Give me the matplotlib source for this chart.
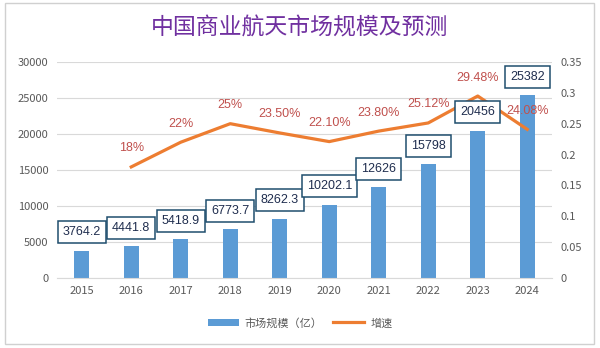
import matplotlib
matplotlib.use("Agg")
import matplotlib.pyplot as plt
from matplotlib.patches import Rectangle
import numpy as np

plt.rcParams['font.family'] = ['Noto Sans CJK SC', 'DejaVu Sans']

years = ['2015', '2016', '2017', '2018', '2019', '2020', '2021', '2022', '2023', '2024']
market = [3764.2, 4441.8, 5418.9, 6773.7, 8262.3, 10202.1, 12626, 15798, 20456, 25382]
market_labels = ['3764.2', '4441.8', '5418.9', '6773.7', '8262.3', '10202.1',
                 '12626', '15798', '20456', '25382']
growth_years = years[1:]
growth = [0.18, 0.22, 0.25, 0.235, 0.221, 0.238, 0.2512, 0.2948, 0.2408]
growth_labels = ['18%', '22%', '25%', '23.50%', '22.10%', '23.80%', '25.12%', '29.48%', '24.08%']

bar_color = '#5B9BD5'
line_color = '#ED7D31'
tick_color = '#595959'

fig = plt.figure(figsize=(6, 3.48), dpi=100)
fig.patches.append(Rectangle((0.008, 0.012), 0.982, 0.978, transform=fig.transFigure,
                             fill=False, edgecolor='#D0D0D0', linewidth=1))

ax = fig.add_axes([0.095, 0.201, 0.825, 0.621])
x = np.arange(len(years))
ax.bar(x, market, width=0.3, color=bar_color, zorder=2, label='市场规模（亿）')
ax.set_ylim(0, 30000)
ax.set_yticks(np.arange(0, 30001, 5000))
ax.set_xlim(-0.5, len(years) - 0.5)
ax.set_xticks(x)
ax.set_xticklabels(years)
ax.grid(axis='y', color='#D9D9D9', linewidth=0.8, zorder=0)
for s in ax.spines.values():
    s.set_visible(False)
ax.spines['bottom'].set_visible(True)
ax.spines['bottom'].set_color('#D9D9D9')
ax.tick_params(length=0, labelsize=8, labelcolor=tick_color, pad=6)

ax2 = ax.twinx()
gx = x[1:]
ax2.plot(gx, growth, color=line_color, linewidth=2.3, zorder=3, label='增速')
ax2.set_ylim(0, 0.35)
ax2.set_yticks([0, 0.05, 0.1, 0.15, 0.2, 0.25, 0.3, 0.35])
ax2.set_yticklabels(['0', '0.05', '0.1', '0.15', '0.2', '0.25', '0.3', '0.35'])
for s in ax2.spines.values():
    s.set_visible(False)
ax2.tick_params(length=0, labelsize=8, labelcolor=tick_color, pad=6)

# value boxes go on the top axes so they sit over the growth line
for xi, v, t in zip(x, market, market_labels):
    ax2.annotate(t, (xi, v), xycoords=ax.transData, xytext=(0, 9), textcoords='offset points',
                 ha='center', va='bottom', fontsize=9, color='#1F2D4E',
                 family=['Liberation Sans', 'DejaVu Sans'], zorder=5,
                 bbox=dict(boxstyle='square,pad=0.4', fc='white', ec='#1F4E6E', lw=1.1))

for xi, v, t in zip(gx, growth, growth_labels):
    ax2.annotate(t, (xi, v), xytext=(0, 9), textcoords='offset points',
                 ha='center', va='bottom', fontsize=9, color='#C0504D',
                 family=['Liberation Sans', 'DejaVu Sans'], zorder=6)

fig.text(0.5, 1 - 28 / 348, '中国商业航天市场规模及预测', ha='center', va='center',
         fontsize=16.5, color='#7030A0')

h1, l1 = ax.get_legend_handles_labels()
h2, l2 = ax2.get_legend_handles_labels()
fig.legend(h1 + h2, l1 + l2, loc='center', bbox_to_anchor=(0.5, 1 - 323 / 348), ncol=2,
           frameon=False, fontsize=8, labelcolor=tick_color, handlelength=2.8,
           columnspacing=1.0, handletextpad=0.5)

fig.savefig('out.png', dpi=100)
